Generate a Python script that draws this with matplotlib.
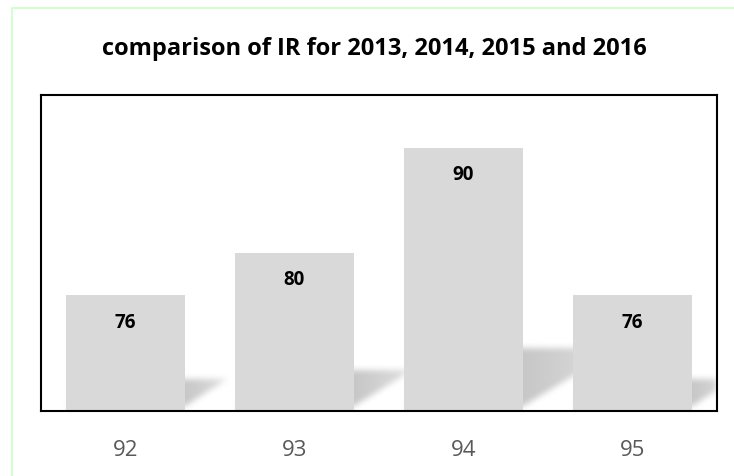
import numpy as np
import matplotlib.pyplot as plt
from matplotlib.patches import Rectangle

# data
categories = ["92", "93", "94", "95"]
values = [76, 80, 90, 76]
title = "comparison of IR for 2013, 2014, 2015 and 2016"

ymin, ymax = 65, 95
bar_w = 0.706
bar_color = "#d9d9d9"

fig = plt.figure(figsize=(7.34, 4.77), dpi=100)
ax = fig.add_axes([41 / 734, 1 - 412 / 477, 676 / 734, 316 / 477])

x = np.arange(len(categories))
ax.bar(x, values, width=bar_w, bottom=0, color=bar_color, zorder=3)
x_lo, x_hi = -0.5, len(categories) - 0.5
ax.set_xlim(x_lo, x_hi)
ax.set_ylim(ymin, ymax)

# soft floor shadows behind the bars, worked out in pixel space
W = int(round(ax.bbox.width))
H = int(round(ax.bbox.height))
sx = W / (x_hi - x_lo)
sy = H / (ymax - ymin)
PX, PY = np.meshgrid(np.arange(W) + 0.5, np.arange(H) + 0.5)
shade = np.zeros((H, W))
for xi, v in zip(x, values):
    h = (v - ymin) * sy
    top = 8 + 0.21 * h
    off = 5
    shift = 0.37 * h
    L = (xi - bar_w / 2 - x_lo) * sx
    R = (xi + bar_w / 2 - x_lo) * sx
    u = (PY - off) / (top - off)
    inside = (u >= 0) & (u <= 1) & (PX >= L + shift * u) & (PX <= R + shift * u)
    fade = np.clip(1 - (PX - R) / (shift * 1.3), 0, 1) ** 0.5
    shade = np.maximum(shade, np.where(inside, fade, 0))

# crude blur
k = 7
kern = np.ones(k) / k
for _ in range(2):
    shade = np.apply_along_axis(lambda r: np.convolve(r, kern, mode="same"), 1, shade)
    shade = np.apply_along_axis(lambda c: np.convolve(c, kern, mode="same"), 0, shade)

rgba = np.zeros(shade.shape + (4,))
rgba[..., :3] = 0.6
rgba[..., 3] = np.clip(shade * 0.55, 0, 1)
ax.imshow(rgba, extent=(x_lo, x_hi, ymin, ymax), origin="lower",
          aspect="auto", zorder=2, interpolation="bilinear")

for xi, v in zip(x, values):
    ax.annotate(str(v), (xi, v), xytext=(0, -19), textcoords="offset points",
                ha="center", va="center", fontsize=13.5, fontweight="bold",
                family="Open Sans", color="black", zorder=4)

ax.set_yticks([])
ax.set_xticks(x)
ax.set_xticklabels(categories, family="Open Sans", fontsize=16, color="#595959")
ax.tick_params(axis="x", length=0, pad=20)
for s in ax.spines.values():
    s.set_linewidth(1.5)
    s.set_color("black")
    s.set_zorder(5)

fig.text(374.5 / 734, 1 - 49 / 477, title, ha="center", va="center",
         family="Open Sans", fontweight="bold", fontsize=17)

# pale green chart-area border
fig.patches.append(Rectangle((12 / 734, -0.1), 1.5, 1 - 8.5 / 477 + 0.1,
                             transform=fig.transFigure, fill=False,
                             edgecolor="#ccffcc", linewidth=1.3))

fig.savefig("out.png", dpi=100)
